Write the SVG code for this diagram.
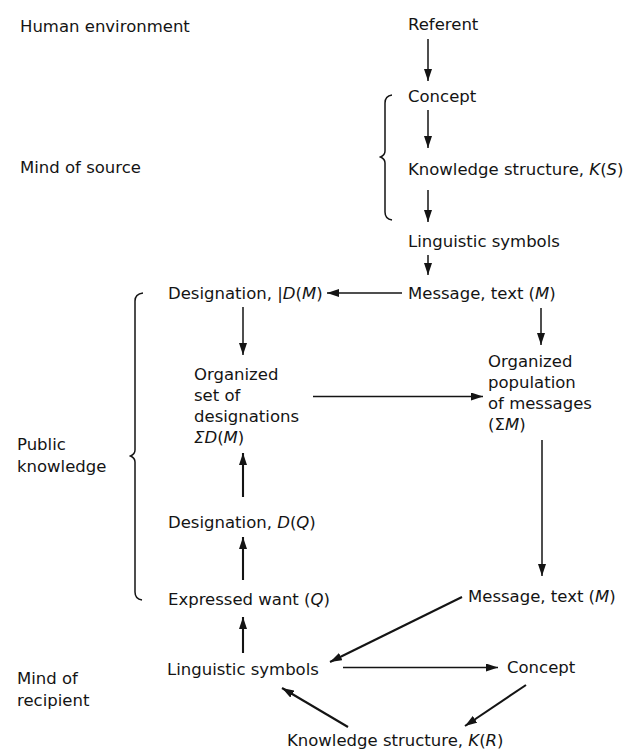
<svg xmlns="http://www.w3.org/2000/svg" width="630" height="753" viewBox="0 0 630 753">
<style>
  text{font-family:"DejaVu Sans","Liberation Sans",sans-serif;font-size:16.5px;fill:#141414}
  .i{font-style:italic}
  .c{stroke:#141414;stroke-width:1.5;fill:none}
  .b{stroke-width:2.1}
  .br{stroke:#141414;stroke-width:1.5;fill:none}
</style>
<defs>
  <marker id="ah" markerWidth="12" markerHeight="8" refX="12" refY="4" orient="auto" markerUnits="userSpaceOnUse">
    <path d="M0,0 L12,4 L0,8 z" fill="#141414"/>
  </marker>
</defs>
<rect width="630" height="753" fill="#ffffff"/>

<g id="labels">
  <g id="label-human-environment"><text x="20" y="32">Human environment</text></g>
  <g id="label-mind-of-source"><text x="20" y="173">Mind of source</text></g>
  <g id="label-public-knowledge"><text x="17" y="450">Public</text><text x="17" y="472">knowledge</text></g>
  <g id="label-mind-of-recipient"><text x="17" y="684">Mind of</text><text x="17" y="706">recipient</text></g>
</g>

<g id="braces">
  <path class="br" d="M392,95 Q385,96 385,103 V151 Q385,155 380.5,157 Q385,159 385,163 V212 Q385,219 392,220"/>
  <path class="br" d="M143,293 Q135,294 135,301 V450 Q135,454 130.5,456 Q135,458 135,462 V592 Q135,599 142,600"/>
</g>

<g id="nodes">
  <g id="referent"><text x="408" y="30">Referent</text></g>
  <g id="concept-source"><text x="408" y="102">Concept</text></g>
  <g id="knowledge-structure-s"><text x="408" y="175">Knowledge structure, <tspan class="i">K</tspan>(<tspan class="i">S</tspan>)</text></g>
  <g id="linguistic-symbols-source"><text x="408" y="247">Linguistic symbols</text></g>
  <g id="message-text-top"><text x="408" y="299">Message, text (<tspan class="i">M</tspan>)</text></g>
  <g id="designation-dm"><text x="168" y="299">Designation, |<tspan class="i">D</tspan>(<tspan class="i">M</tspan>)</text></g>
  <g id="organized-set"><text x="194" y="380">Organized</text><text x="194" y="401">set of</text><text x="194" y="422">designations</text><text x="194" y="443"><tspan class="i">ΣD</tspan>(<tspan class="i">M</tspan>)</text></g>
  <g id="organized-population"><text x="488" y="367">Organized</text><text x="488" y="388">population</text><text x="488" y="409">of messages</text><text x="488" y="430">(Σ<tspan class="i">M</tspan>)</text></g>
  <g id="designation-dq"><text x="168" y="528">Designation, <tspan class="i">D</tspan>(<tspan class="i">Q</tspan>)</text></g>
  <g id="expressed-want"><text x="168" y="605">Expressed want (<tspan class="i">Q</tspan>)</text></g>
  <g id="message-text-bottom"><text x="468" y="602">Message, text (<tspan class="i">M</tspan>)</text></g>
  <g id="linguistic-symbols-recipient"><text x="167" y="675">Linguistic symbols</text></g>
  <g id="concept-recipient"><text x="507" y="673">Concept</text></g>
  <g id="knowledge-structure-r"><text x="287" y="746">Knowledge structure, <tspan class="i">K</tspan>(<tspan class="i">R</tspan>)</text></g>
</g>

<g id="connectors">
  <path class="c" d="M428,39 V81" marker-end="url(#ah)"/>
  <path class="c" d="M428,110 V148" marker-end="url(#ah)"/>
  <path class="c" d="M428,190 V222" marker-end="url(#ah)"/>
  <path class="c" d="M428,255 V275" marker-end="url(#ah)"/>
  <path class="c" d="M402,293 H327" marker-end="url(#ah)"/>
  <path class="c" d="M243,307 V355" marker-end="url(#ah)"/>
  <path class="c" d="M541,308 V345" marker-end="url(#ah)"/>
  <path class="c" d="M313,396.5 H483" marker-end="url(#ah)"/>
  <path class="c" d="M542,440 V576" marker-end="url(#ah)"/>
  <path class="c b" d="M243,497 V453" marker-end="url(#ah)"/>
  <path class="c b" d="M243,580 V537" marker-end="url(#ah)"/>
  <path class="c b" d="M243,653 V617" marker-end="url(#ah)"/>
  <path class="c b" d="M462,597 L330,662" marker-end="url(#ah)"/>
  <path class="c" d="M343,667.5 H498" marker-end="url(#ah)"/>
  <path class="c b" d="M526,685 L465,726" marker-end="url(#ah)"/>
  <path class="c b" d="M348,727 L282,688" marker-end="url(#ah)"/>
</g>
</svg>
